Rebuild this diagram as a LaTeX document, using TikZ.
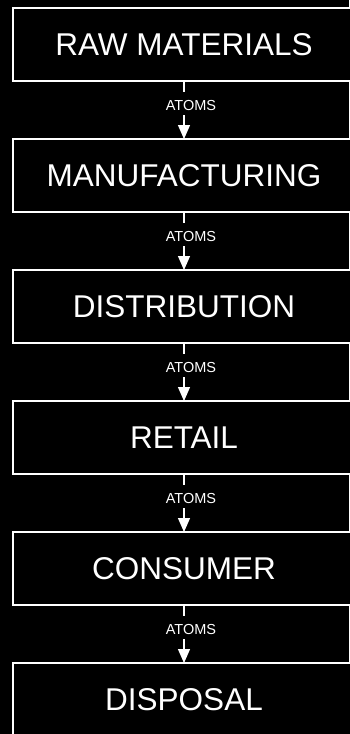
\documentclass[tikz,border=0pt]{standalone}
\usepackage{fontspec}
\setmainfont{Liberation Sans}
\usetikzlibrary{arrows.meta}
\usetikzlibrary{positioning}

\begin{document}
\begin{tikzpicture}[x=1pt, y=1pt,
        stage/.style={draw=white, line width=2pt, fill=black, text=white, minimum width=342pt, minimum height=73pt, outer sep=0pt, inner sep=0pt, font=\fontsize{31.5}{36}\selectfont},
        flow/.style={draw=white, line width=1.3pt, -{Triangle[width=12pt,length=14pt]}},
        atoms/.style={fill=black, text=white, inner xsep=1pt, inner ysep=4.5pt, text height=14pt, text depth=0pt, font=\fontsize{14.5}{16}\selectfont, pos=0.39, xshift=7pt}]
        \fill[black] (0,0) rectangle (349,-734);
        \useasboundingbox (0,0) rectangle (349,-734);
        \node[stage] (raw) at (184,-44.5) {RAW MATERIALS};
        \node[stage, below=58pt of raw] (manuf) {MANUFACTURING};
        \node[stage, below=58pt of manuf] (distrib) {DISTRIBUTION};
        \node[stage, below=58pt of distrib] (retail) {RETAIL};
        \node[stage, below=58pt of retail] (consumer) {CONSUMER};
        \node[stage, below=58pt of consumer] (disposal) {DISPOSAL};
        \draw[flow] (raw) -- node[atoms] (a1) {ATOMS} (manuf);
        \draw[flow] (manuf) -- node[atoms] (a2) {ATOMS} (distrib);
        \draw[flow] (distrib) -- node[atoms] (a3) {ATOMS} (retail);
        \draw[flow] (retail) -- node[atoms] (a4) {ATOMS} (consumer);
        \draw[flow] (consumer) -- node[atoms] (a5) {ATOMS} (disposal);
    \end{tikzpicture}
\end{document}
